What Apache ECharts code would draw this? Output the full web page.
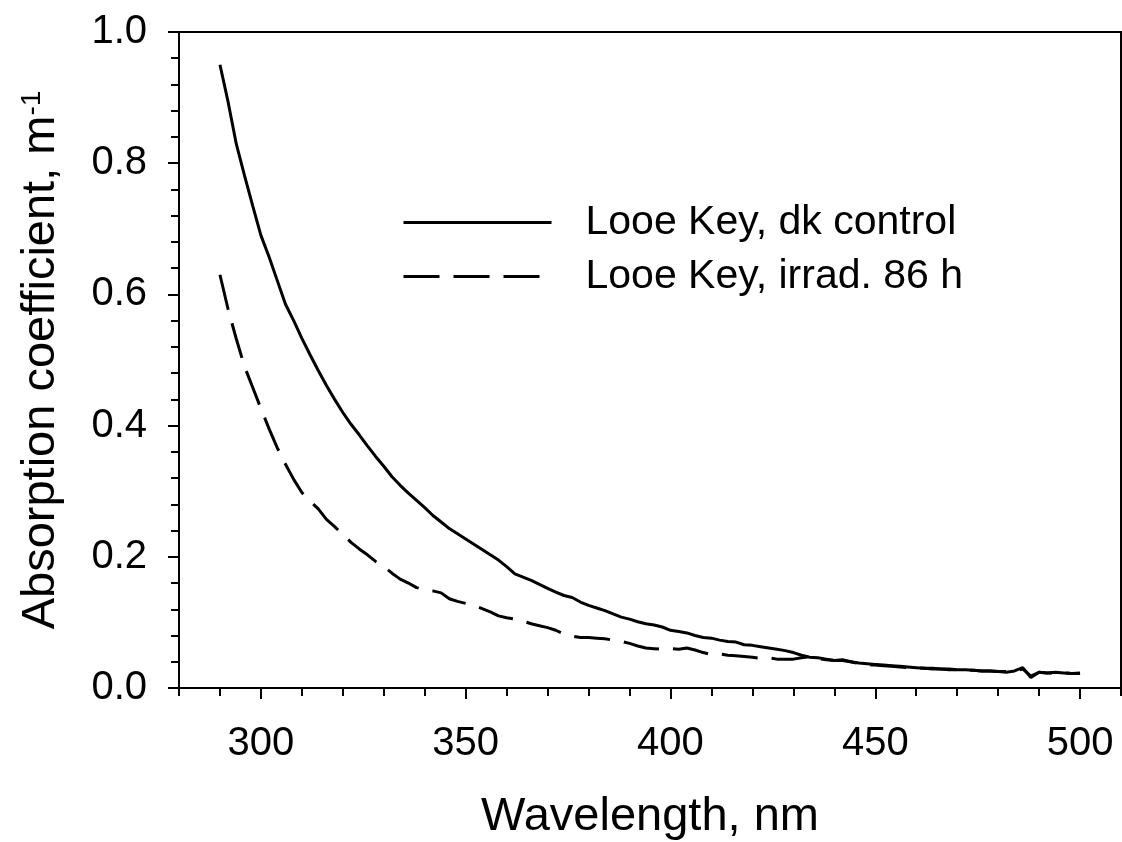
<!DOCTYPE html>
<html lang="en">
<head>
<meta charset="UTF-8">
<title>Absorption coefficient</title>
<script src="https://cdn.jsdelivr.net/npm/echarts@6.0.0/dist/echarts.min.js"></script>
<style>
  html, body { margin: 0; padding: 0; background: #fff; }
  #chart { width: 1122px; height: 842px; }
</style>
</head>
<body>
<div id="chart"></div>
<script>
// wavelength (nm), every 2 nm
const wavelengths = [
  290, 292, 294, 296, 298, 300, 302, 304, 306, 308,
  310, 312, 314, 316, 318, 320, 322, 324, 326, 328,
  330, 332, 334, 336, 338, 340, 342, 344, 346, 348,
  350, 352, 354, 356, 358, 360, 362, 364, 366, 368,
  370, 372, 374, 376, 378, 380, 382, 384, 386, 388,
  390, 392, 394, 396, 398, 400, 402, 404, 406, 408,
  410, 412, 414, 416, 418, 420, 422, 424, 426, 428,
  430, 432, 434, 436, 438, 440, 442, 444, 446, 448,
  450, 452, 454, 456, 458, 460, 462, 464, 466, 468,
  470, 472, 474, 476, 478, 480, 482, 484, 486, 488,
  490, 492, 494, 496, 498, 500
]

const darkControl = [
  0.950, 0.893, 0.829, 0.781, 0.735, 0.690, 0.657, 0.621, 0.585, 0.560,
  0.533, 0.508, 0.484, 0.461, 0.440, 0.420, 0.402, 0.386, 0.369, 0.353,
  0.338, 0.322, 0.309, 0.297, 0.286, 0.275, 0.263, 0.253, 0.243, 0.235,
  0.227, 0.219, 0.211, 0.203, 0.195, 0.185, 0.174, 0.169, 0.164, 0.158,
  0.152, 0.146, 0.141, 0.138, 0.131, 0.126, 0.122, 0.118, 0.113, 0.108,
  0.105, 0.101, 0.098, 0.096, 0.093, 0.088, 0.086, 0.084, 0.080, 0.077,
  0.076, 0.073, 0.071, 0.070, 0.066, 0.065, 0.063, 0.061, 0.059, 0.057,
  0.054, 0.050, 0.047, 0.046, 0.044, 0.042, 0.042, 0.040, 0.038, 0.037,
  0.036, 0.035, 0.034, 0.033, 0.032, 0.031, 0.030, 0.030, 0.029, 0.029,
  0.028, 0.028, 0.027, 0.026, 0.026, 0.025, 0.024, 0.026, 0.031, 0.016,
  0.024, 0.023, 0.024, 0.023, 0.022, 0.023
]

const irradiated = [
  0.630, 0.577, 0.532, 0.490, 0.458, 0.426, 0.395, 0.366, 0.341, 0.318,
  0.298, 0.285, 0.273, 0.257, 0.246, 0.234, 0.222, 0.212, 0.203, 0.193,
  0.185, 0.175, 0.166, 0.160, 0.153, 0.150, 0.148, 0.145, 0.136, 0.132,
  0.129, 0.126, 0.121, 0.116, 0.110, 0.107, 0.105, 0.102, 0.098, 0.095,
  0.092, 0.088, 0.082, 0.079, 0.077, 0.077, 0.076, 0.075, 0.073, 0.071,
  0.068, 0.064, 0.061, 0.060, 0.059, 0.060, 0.059, 0.061, 0.058, 0.054,
  0.051, 0.052, 0.050, 0.049, 0.048, 0.047, 0.045, 0.046, 0.044, 0.044,
  0.044, 0.046, 0.048, 0.045, 0.043, 0.042, 0.043, 0.040, 0.037, 0.035,
  0.035, 0.034, 0.033, 0.032, 0.031, 0.031, 0.030, 0.029, 0.029, 0.028,
  0.028, 0.027, 0.027, 0.026, 0.026, 0.025, 0.025, 0.025, 0.029, 0.018,
  0.024, 0.023, 0.023, 0.023, 0.022, 0.022
]

const seriesNames = ['Looe Key, dk control', 'Looe Key, irrad. 86 h']
const xMajorTicks = [300, 350, 400, 450, 500]
const xMinorTicks = [280, 290, 300, 310, 320, 330, 340, 350, 360, 370, 380,
  390, 400, 410, 420, 430, 440, 450, 460, 470, 480, 490, 500, 510]

const font = '"Liberation Sans", Arial, Helvetica, sans-serif'

const pairs = (xs, ys) => xs.map((x, i) => [x, ys[i]])

const chart = echarts.init(document.getElementById('chart'))

const option = {
  animation: false,
  backgroundColor: '#fff',
  textStyle: { fontFamily: font, color: '#000' },
  grid: {
    left: 179,
    right: 1,
    top: 32,
    bottom: 154,
    outerBoundsMode: 'none',
    containLabel: false,
    show: true,
    borderColor: '#000',
    borderWidth: 2,
  },
  legend: {
    orient: 'vertical',
    left: 402,
    top: 202,
    padding: 0,
    itemWidth: 148,
    itemHeight: 14,
    itemGap: 13,
    data: seriesNames,
    itemStyle: { opacity: 0 },
    lineStyle: { width: 3, color: '#000' },
    textStyle: {
      fontFamily: font,
      fontSize: 41,
      lineHeight: 41,
      color: '#000',
      padding: [0, 0, 0, 29],
    },
  },
  xAxis: [
    {
      type: 'value',
      min: 280,
      max: 510,
      interval: 10,
      name: 'Wavelength, nm',
      nameLocation: 'middle',
      nameGap: 106,
      nameMoveOverlap: false,
      nameTextStyle: { fontFamily: font, fontSize: 47, color: '#000' },
      axisLine: { lineStyle: { color: '#000', width: 2 } },
      axisTick: {
        customValues: xMajorTicks,
        length: 11,
        lineStyle: { color: '#000', width: 2 },
      },
      axisLabel: {
        customValues: xMajorTicks,
        margin: 36,
        fontFamily: font,
        fontSize: 40,
        color: '#000',
      },
      splitLine: { show: false },
    },
    {
      type: 'value',
      min: 280,
      max: 510,
      interval: 10,
      position: 'bottom',
      axisLine: { show: false },
      axisTick: {
        customValues: xMinorTicks,
        length: 8,
        lineStyle: { color: '#000', width: 2 },
      },
      axisLabel: { show: false },
      splitLine: { show: false },
    },
  ],
  yAxis: {
    type: 'value',
    min: 0,
    max: 1,
    interval: 0.2,
    name: '{a|Absorption coefficient, m}{s|-1}',
    nameLocation: 'middle',
    nameRotate: 90,
    nameGap: 114,
    nameMoveOverlap: false,
    nameTextStyle: {
      rich: {
        a: { fontFamily: font, fontSize: 47, lineHeight: 47, color: '#000' },
        s: { fontFamily: font, fontSize: 28, lineHeight: 12, verticalAlign: 'top', color: '#000' },
      },
    },
    axisLine: { lineStyle: { color: '#000', width: 2 } },
    axisTick: { length: 11, lineStyle: { color: '#000', width: 2 } },
    minorTick: { show: true, splitNumber: 5, length: 8, lineStyle: { color: '#000', width: 2 } },
    axisLabel: {
      margin: 32,
      fontFamily: font,
      fontSize: 40,
      color: '#000',
      formatter: v => v.toFixed(1),
    },
    splitLine: { show: false },
  },
  series: [
    {
      name: seriesNames[0],
      type: 'line',
      xAxisIndex: 0,
      data: pairs(wavelengths, darkControl),
      showSymbol: false,
      symbol: 'none',
      lineStyle: { color: '#000', width: 3, type: 'solid' },
      itemStyle: { color: '#000' },
    },
    {
      name: seriesNames[1],
      type: 'line',
      xAxisIndex: 0,
      data: pairs(wavelengths, irradiated),
      showSymbol: false,
      symbol: 'none',
      lineStyle: { color: '#000', width: 3, type: [36, 14] },
      itemStyle: { color: '#000' },
    },
  ],
}

chart.setOption(option)
</script>
</body>
</html>
